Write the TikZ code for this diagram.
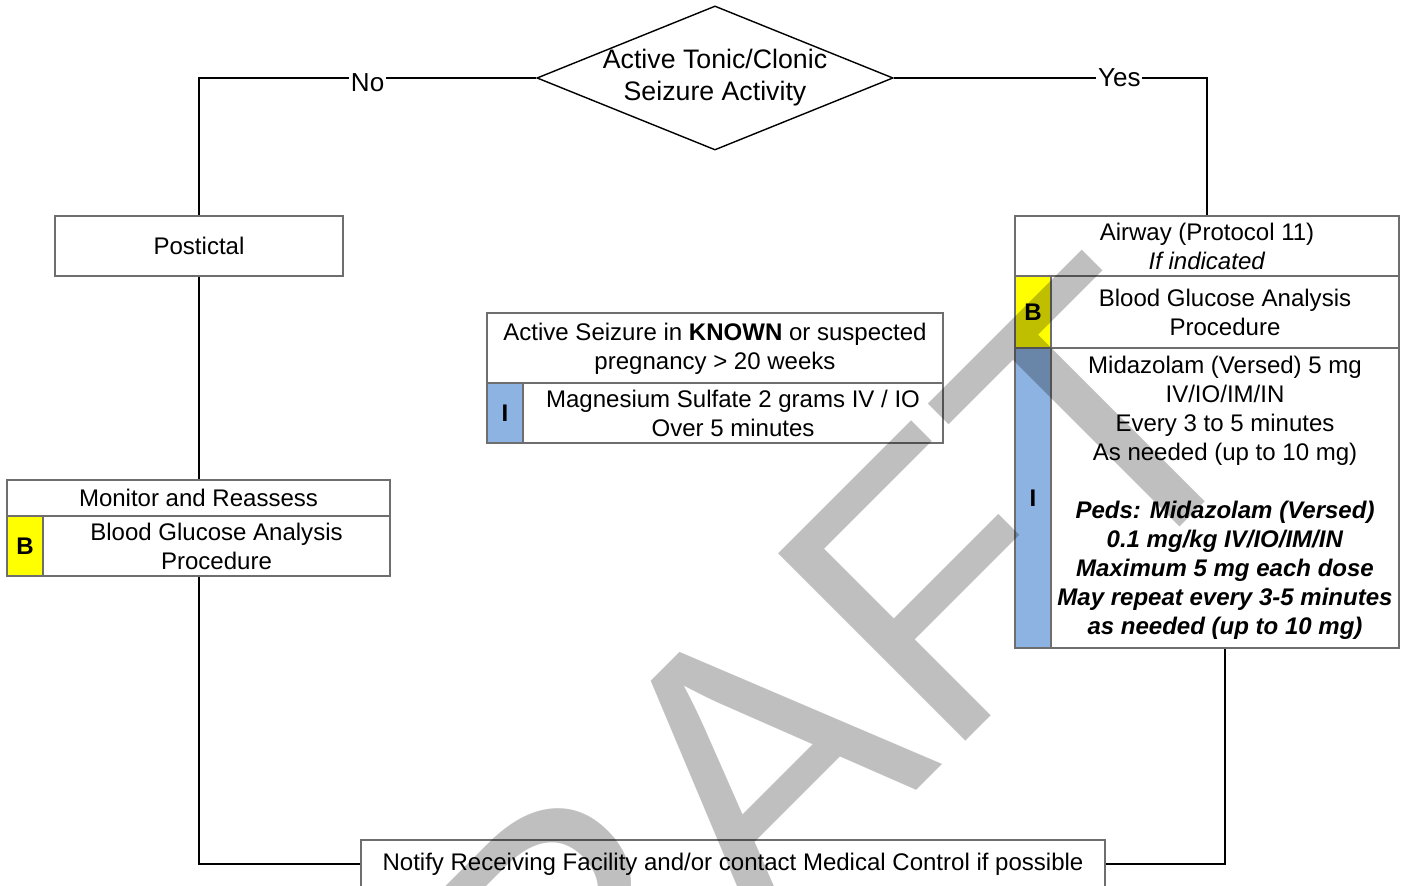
\documentclass[tikz,border=0pt]{standalone}
\usepackage{fontspec}
\setmainfont{Liberation Sans}
\usepackage{xcolor}
\usepackage{tikz}
\usetikzlibrary{shapes.geometric}
\definecolor{bcol}{HTML}{FFFF00}
\definecolor{icol}{HTML}{8DB3E2}
\definecolor{rim}{HTML}{6E6E6E}
\tikzset{
  cell/.style={draw=rim,fill=white,line width=0.45pt,inner sep=0pt,align=center,
               font=\fontsize{6.83}{8.25}\selectfont},
  tag/.style={cell,fill=#1,minimum width=0.36cm,font=\fontsize{6.83}{8.25}\selectfont\bfseries},
  decide/.style={diamond,draw=black,line width=0.4pt,aspect=2.47,inner sep=-2pt,
                 minimum width=3.56cm,minimum height=1.44cm,align=center,
                 font=\fontsize{7.6}{9.1}\selectfont},
  link/.style={draw=black,line width=0.45pt},
  lbl/.style={fill=white,inner sep=0.5pt,font=\fontsize{7.4}{8.9}\selectfont},
  stamp/.style={inner sep=0pt,text=black,text opacity=0.25,font=\fontsize{109.5}{110}\selectfont},
}

\begin{document}
\begin{tikzpicture}[x=0.01cm,y=-0.01cm]
  \useasboundingbox (0,0) rectangle (1402,886);
  \node[decide] (seiz) at (715,78) {Active Tonic/Clonic\\Seizure Activity};
  \node[cell,minimum width=2.88cm,minimum height=0.60cm] (post) at (199,246) {Postictal};
  \node[cell,minimum width=3.83cm,minimum height=0.36cm] (mon) at (198.5,498) {Monitor and Reassess};
  \node[tag=bcol,minimum height=0.60cm] (monb) at (25,546) {B};
  \node[cell,minimum width=3.47cm,minimum height=0.60cm] (monbg) at (216.5,546) {Blood Glucose Analysis\\Procedure};
  \node[cell,minimum width=4.56cm,minimum height=0.71cm] (preg) at (715,348.5) {Active Seizure in \textbf{KNOWN} or suspected\\pregnancy > 20 weeks};
  \node[tag=icol,minimum height=0.60cm] (pregi) at (505,413) {I};
  \node[cell,minimum width=4.20cm,minimum height=0.60cm] (mag) at (733,413) {Magnesium Sulfate 2 grams IV / IO\\Over 5 minutes};
  \node[cell,minimum width=3.84cm,minimum height=0.60cm] (air) at (1207,246) {Airway (Protocol 11)\\\textit{If indicated}};
  \node[tag=bcol,minimum height=0.72cm] (airb) at (1033,312) {B};
  \node[cell,minimum width=3.48cm,minimum height=0.72cm] (airbg) at (1225,312) {Blood Glucose Analysis\\Procedure};
  \node[tag=icol,minimum height=3.00cm] (airi) at (1033,498) {I};
  \node[cell,minimum width=3.48cm,minimum height=3.00cm] (midaz) at (1225,498) {Midazolam (Versed) 5 mg\\IV/IO/IM/IN\\Every 3 to 5 minutes\\As needed (up to 10 mg)\\[8.25pt]
    \textbf{\textit{Peds: Midazolam (Versed)}}\\\textbf{\textit{0.1 mg/kg IV/IO/IM/IN}}\\\textbf{\textit{Maximum 5 mg each dose}}\\
    \textbf{\textit{May repeat every 3-5 minutes}}\\\textbf{\textit{as needed (up to 10 mg)}}};
  \node[cell,minimum width=7.44cm,minimum height=0.48cm] (notify) at (733,864) {Notify Receiving Facility and/or contact Medical Control if possible};

  \draw[link] (seiz.west) -| node[lbl,pos=0.25,yshift=-0.05cm]{No} (post.north);
  \draw[link] (seiz.east) -| node[lbl,pos=0.36]{Yes} (air.north);
  \draw[link] (post.south) -- (post |- mon.north);
  \draw[link] (post |- monbg.south) |- (notify.west);
  \draw[link] (midaz.south) |- (notify.east);

  \begin{scope}
    \clip (0,0) rectangle (1402,886);
    \node[stamp,anchor=base west,rotate=45] (draft) at (368,1339) {DRAFT};
  \end{scope}
\end{tikzpicture}
\end{document}
